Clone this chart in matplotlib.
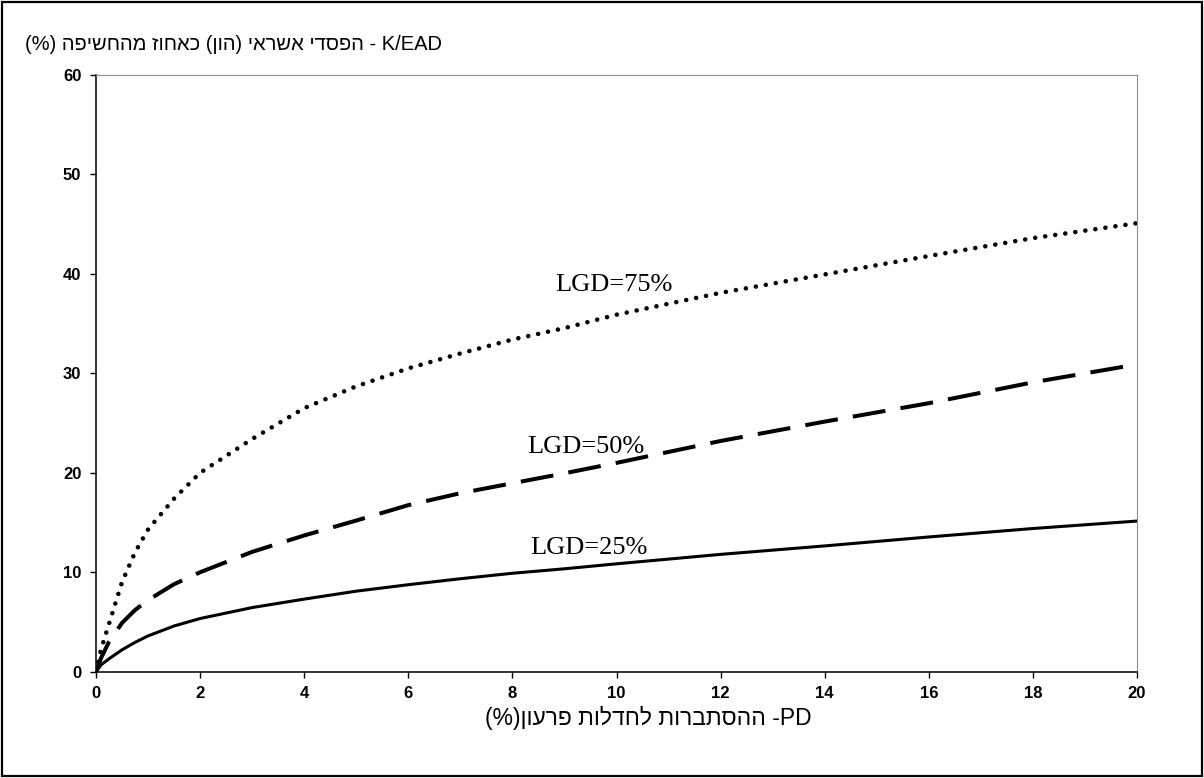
import matplotlib
matplotlib.use("Agg")
import matplotlib.pyplot as plt
from matplotlib.patches import Rectangle

# PD (%) and K/EAD (%)
pd_x = [0, 0.1, 0.25, 0.5, 0.75, 1, 1.5, 2, 3, 4, 5, 6, 7, 8, 9, 10, 12, 14, 16, 18, 20]
lgd25 = [0, 0.7, 1.3, 2.2, 2.95, 3.6, 4.6, 5.35, 6.45, 7.3, 8.1, 8.75, 9.35, 9.9, 10.35,
         10.85, 11.8, 12.65, 13.55, 14.4, 15.15]
lgd50 = [0, 1.4, 3.0, 4.9, 6.2, 7.2, 8.8, 10.0, 12.05, 13.7, 15.2, 16.75, 17.95, 18.95, 19.95,
         21.0, 23.2, 25.15, 27.0, 29.1, 30.9]
lgd75 = [0, 2.3, 4.8, 9.0, 12.0, 14.3, 17.4, 20.0, 23.4, 26.5, 28.7, 30.5, 32.0, 33.4, 34.55,
         35.9, 38.1, 39.95, 41.8, 43.6, 45.1]

x_ticks = [0, 2, 4, 6, 8, 10, 12, 14, 16, 18, 20]
y_ticks = [0, 10, 20, 30, 40, 50, 60]

# hebrew written in visual order (matplotlib has no bidi)
y_title = "(%) הפישחהמ זוחאכ (ןוה) יארשא ידספה - K/EAD"
x_title = "(%)ןוערפ תולדחל תורבתסהה -PD"

fig = plt.figure(figsize=(12.04, 7.78), dpi=100)
ax = fig.add_axes([0.0797, 0.1366, 0.8647, 0.767])

ax.plot(pd_x, lgd25, color="black", lw=2.2, solid_capstyle="round")
ax.plot(pd_x, lgd50, color="black", lw=2.9, linestyle=(0, (8.2, 3.8)), dash_capstyle="butt")
ax.plot(pd_x, lgd75, color="black", lw=3.3, linestyle=(0, (0.01, 2.2)), dash_capstyle="round")

ax.set_xlim(0, 20)
ax.set_ylim(0, 60)
ax.set_xticks(x_ticks)
ax.set_yticks(y_ticks)
ax.tick_params(direction="out", length=4.5, width=1, color="black", pad=6)
for lab in ax.get_xticklabels() + ax.get_yticklabels():
    lab.set_fontfamily("Liberation Sans")
    lab.set_fontweight("bold")
    lab.set_fontsize(12)

ax.spines["left"].set_color("black")
ax.spines["bottom"].set_color("black")
ax.spines["left"].set_linewidth(1.1)
ax.spines["bottom"].set_linewidth(1.1)
ax.spines["top"].set_color("#8c8c8c")
ax.spines["right"].set_color("#8c8c8c")

serif = "Liberation Serif"
ax.text(9.95, 38.9, "LGD=75%", family=serif, fontsize=19, ha="center", va="center")
ax.text(9.41, 22.6, "LGD=50%", family=serif, fontsize=19, ha="center", va="center")
ax.text(9.47, 12.45, "LGD=25%", family=serif, fontsize=19, ha="center", va="center")

fig.text(25 / 1204, 1 - 45 / 778, y_title, family="Liberation Sans", fontsize=14.5,
         ha="left", va="center")
fig.text(648 / 1204, 1 - 718 / 778, x_title, family="Liberation Sans", fontsize=16.5,
         ha="center", va="center")

# outer frame
fig.patches.append(Rectangle((0.002, 0.003), 0.996, 0.994, transform=fig.transFigure,
                             fill=False, edgecolor="black", lw=1.6))

fig.savefig("out.png", dpi=100)
